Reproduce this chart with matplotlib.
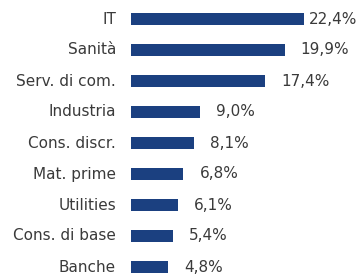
import matplotlib
matplotlib.use("Agg")
from matplotlib import pyplot as plt

sectors = ["IT", "Sanità", "Serv. di com.", "Industria", "Cons. discr.",
           "Mat. prime", "Utilities", "Cons. di base", "Banche"]
weights = [22.4, 19.9, 17.4, 9.0, 8.1, 6.8, 6.1, 5.4, 4.8]

bar_col = "#1b4080"
txt_col = "#3a3a3a"
plt.rcParams["font.family"] = ["DejaVu Sans"]

fig = plt.figure(figsize=(3.56, 2.75), dpi=100)
ax = fig.add_axes([131 / 356, 0, 225 / 356, 1])
ypos = list(range(len(sectors)))
ax.barh(ypos, weights, height=0.39, color=bar_col)
ax.set_xlim(0, 225 / 7.72)
ax.set_ylim(256 / 31, -19 / 31)

for y, name, w in zip(ypos, sectors, weights):
    ax.text(-15 / 7.72, y, name, ha="right", va="center", fontsize=11, color=txt_col)
    lab = f"{w:.1f}%".replace(".", ",")
    if w > 21:
        # ultima etichetta spostata per non uscire dal bordo
        ax.text(w + 5 / 7.72, y, lab, ha="left", va="center", fontsize=11, color=txt_col)
    else:
        ax.text(w + 16 / 7.72, y, lab, ha="left", va="center", fontsize=11, color=txt_col)

ax.axis("off")
fig.savefig("out.png", dpi=100)
